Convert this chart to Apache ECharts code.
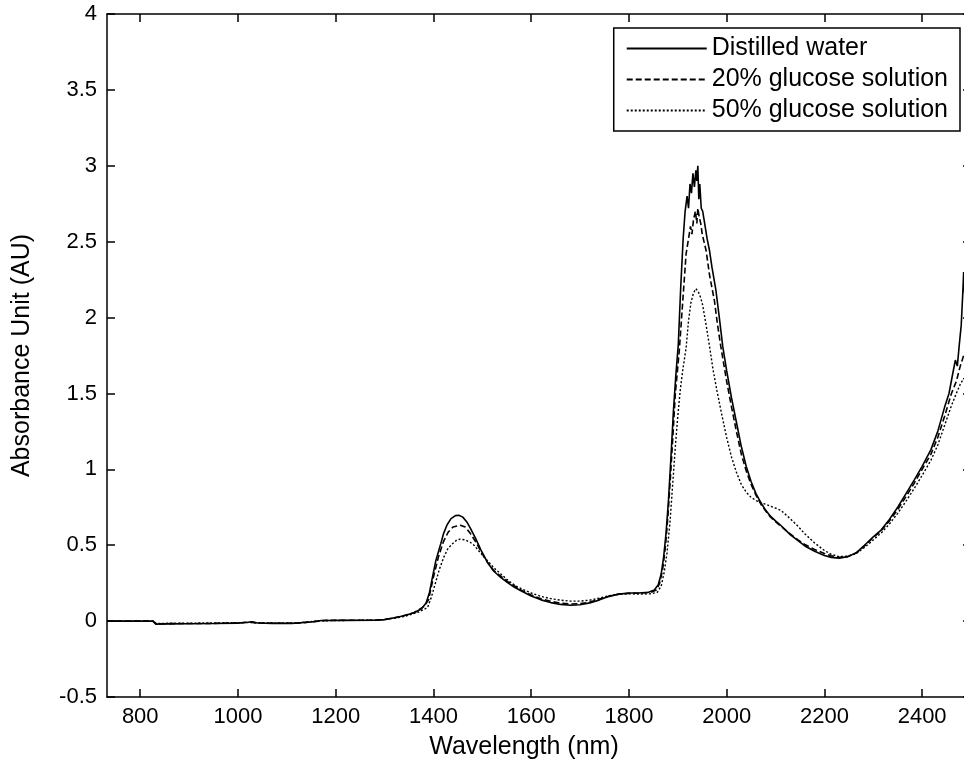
<!DOCTYPE html>
<html>
<head>
<meta charset="utf-8">
<script src="https://cdn.jsdelivr.net/npm/echarts@6/dist/echarts.min.js"></script>
<style>html,body{margin:0;padding:0;background:#fff;overflow:hidden;}#c{width:964px;height:771px;}</style>
</head>
<body>
<div id="c"></div>
<script>
const seriesNames = ['Distilled water', '20% glucose solution', '50% glucose solution'];
const xTickValues = [800, 1000, 1200, 1400, 1600, 1800, 2000, 2200, 2400];

const waterWl = [732,780,826,832,860,900,950,1000,1020,1030,1040,1070,1110,1150,1170,1220,1280,1300,1320,1340,1360,1375,1385,1392,1398,1405,1415,1421,1428,1436,1445,1452,1460,1468,1476,1487,1497,1510,1523,1537,1551,1565,1579,1600,1620,1640,1660,1680,1700,1720,1740,1760,1780,1800,1820,1840,1852,1860,1866,1871,1876,1881,1886,1891,1896,1901,1906,1911,1915,1919,1922,1925,1928,1931,1934,1937,1939,1941,1943,1945,1948,1951,1954,1960,1965,1970,1978,1985,1992,2000,2010,2020,2030,2040,2050,2060,2070,2080,2090,2100,2111,2130,2146,2160,2180,2200,2214,2230,2248,2265,2282,2300,2316,2333,2350,2367,2384,2400,2418,2432,2446,2455,2462,2468,2472,2476,2480,2483,2485,2488,2492,2500];
const waterAbs = [0,0,0,-0.02,-0.018,-0.017,-0.016,-0.013,-0.008,-0.004,-0.012,-0.015,-0.015,-0.006,0.004,0.005,0.006,0.01,0.022,0.035,0.055,0.08,0.12,0.19,0.29,0.40,0.51,0.58,0.635,0.675,0.695,0.697,0.685,0.655,0.61,0.54,0.47,0.39,0.33,0.29,0.255,0.225,0.2,0.165,0.14,0.122,0.11,0.105,0.108,0.12,0.14,0.163,0.178,0.185,0.185,0.19,0.205,0.24,0.31,0.42,0.58,0.8,1.08,1.38,1.62,1.82,2.2,2.52,2.7,2.8,2.72,2.88,2.82,2.95,2.86,2.97,2.9,3.0,2.78,2.88,2.72,2.7,2.64,2.52,2.44,2.33,2.18,2.0,1.81,1.65,1.47,1.31,1.15,1.02,0.92,0.84,0.78,0.73,0.69,0.66,0.63,0.57,0.53,0.495,0.46,0.432,0.42,0.415,0.425,0.45,0.5,0.555,0.6,0.67,0.75,0.84,0.93,1.02,1.13,1.25,1.41,1.5,1.62,1.72,1.68,1.82,1.95,2.15,2.3,2.1,2.25,2.3];

const g20Wl = [732,826,832,880,950,1000,1025,1035,1070,1120,1155,1180,1280,1300,1330,1360,1380,1390,1400,1410,1420,1430,1440,1455,1465,1475,1487,1497,1510,1523,1551,1579,1600,1620,1640,1660,1680,1700,1720,1740,1760,1780,1800,1820,1845,1856,1863,1869,1875,1880,1885,1890,1895,1903,1910,1917,1922,1926,1929,1932,1936,1939,1941,1944,1947,1950,1958,1965,1975,1981,1988,2000,2010,2020,2030,2040,2050,2060,2070,2080,2090,2100,2111,2130,2146,2160,2180,2200,2214,2230,2248,2265,2282,2300,2316,2333,2350,2367,2384,2400,2418,2432,2446,2460,2470,2478,2485,2492,2500];
const g20Abs = [0,0,-0.018,-0.016,-0.015,-0.012,-0.006,-0.012,-0.014,-0.014,-0.004,0.005,0.006,0.01,0.028,0.055,0.095,0.14,0.29,0.42,0.52,0.585,0.62,0.632,0.62,0.58,0.52,0.46,0.39,0.335,0.262,0.205,0.172,0.148,0.13,0.118,0.113,0.115,0.125,0.145,0.165,0.178,0.183,0.184,0.19,0.205,0.25,0.34,0.5,0.7,0.95,1.22,1.5,1.78,2.1,2.42,2.52,2.6,2.55,2.64,2.7,2.62,2.72,2.66,2.62,2.55,2.44,2.28,2.11,1.96,1.81,1.58,1.41,1.25,1.1,0.99,0.9,0.83,0.77,0.725,0.685,0.655,0.625,0.575,0.535,0.505,0.472,0.445,0.43,0.42,0.425,0.448,0.495,0.55,0.595,0.66,0.735,0.82,0.91,1.0,1.1,1.21,1.35,1.5,1.58,1.68,1.75,1.7,1.8];

const g50Wl = [732,826,833,880,950,1000,1030,1070,1120,1160,1200,1280,1300,1340,1370,1388,1395,1404,1412,1421,1430,1439,1448,1455,1465,1475,1483,1495,1510,1524,1538,1555,1572,1600,1620,1640,1660,1680,1700,1720,1740,1760,1780,1800,1820,1845,1858,1866,1872,1878,1884,1890,1895,1900,1905,1910,1917,1922,1927,1932,1937,1942,1947,1951,1958,1965,1972,1980,1990,2000,2010,2020,2030,2040,2050,2060,2070,2080,2090,2100,2111,2130,2146,2160,2180,2200,2214,2230,2248,2265,2282,2300,2316,2333,2350,2367,2384,2400,2418,2432,2446,2460,2470,2478,2485,2492,2500];
const g50Abs = [0,0,-0.015,-0.014,-0.012,-0.01,-0.01,-0.012,-0.012,0.0,0.004,0.006,0.01,0.03,0.06,0.09,0.15,0.25,0.34,0.42,0.48,0.51,0.535,0.54,0.535,0.52,0.5,0.455,0.4,0.35,0.31,0.262,0.225,0.185,0.163,0.148,0.138,0.132,0.132,0.138,0.152,0.168,0.178,0.18,0.178,0.18,0.19,0.23,0.32,0.45,0.65,0.92,1.15,1.35,1.52,1.65,1.8,1.98,2.1,2.16,2.19,2.17,2.13,2.08,1.95,1.81,1.66,1.52,1.36,1.21,1.08,0.98,0.9,0.85,0.815,0.795,0.78,0.77,0.757,0.745,0.73,0.675,0.625,0.575,0.515,0.465,0.44,0.425,0.428,0.445,0.485,0.535,0.58,0.64,0.71,0.79,0.875,0.96,1.06,1.16,1.29,1.42,1.5,1.56,1.6,1.55,1.62];

const FONT = 'Liberation Sans, Arial, Helvetica, sans-serif';
const TICK_FS = 22;
const TITLE_FS = 25;
const LEGEND_FS = 25;
const pairs = (xs, ys) => xs.map((x, i) => [x, ys[i]]);

const chart = echarts.init(document.getElementById('c'), null, {renderer: 'canvas'});
const axisLine = {show: true, onZero: false, lineStyle: {color: '#000', width: 1.5}};
const tick = {show: true, inside: true, length: 8, lineStyle: {color: '#000', width: 1.5}};

chart.setOption({
  animation: false,
  backgroundColor: '#fff',
  textStyle: {fontFamily: FONT, color: '#000'},
  grid: {left: 107, top: 14, width: 864, bottom: 74, containLabel: false, outerBoundsMode: 'none'},
  legend: {
    data: seriesNames,
    orient: 'vertical',
    right: 4,
    top: 28,
    backgroundColor: '#fff',
    borderColor: '#000',
    borderWidth: 1.5,
    borderRadius: 0,
    padding: [6, 12, 6, 12],
    itemGap: 2,
    itemWidth: 80,
    itemHeight: 14,
    itemStyle: {opacity: 0},
    textStyle: {fontFamily: FONT, fontSize: LEGEND_FS, lineHeight: 29, color: '#000'}
  },
  xAxis: [{
    type: 'value', min: 732, max: 2500, position: 'bottom',
    axisLine: axisLine,
    axisTick: Object.assign({customValues: xTickValues}, tick),
    axisLabel: {customValues: xTickValues, formatter: v => String(v), fontFamily: FONT, fontSize: TICK_FS, color: '#000', margin: 9},
    splitLine: {show: false},
    name: 'Wavelength (nm)', nameLocation: 'middle', nameGap: 38,
    nameTextStyle: {fontFamily: FONT, fontSize: TITLE_FS, color: '#000', padding: [0, 30, 0, 0]}
  }, {
    type: 'value', min: 732, max: 2500, position: 'top',
    axisLine: axisLine,
    axisTick: Object.assign({customValues: xTickValues}, tick),
    axisLabel: {show: false},
    splitLine: {show: false}
  }],
  yAxis: [{
    type: 'value', min: -0.5, max: 4, interval: 0.5, position: 'left',
    axisLine: axisLine, axisTick: tick,
    axisLabel: {fontFamily: FONT, fontSize: TICK_FS, color: '#000', margin: 10},
    splitLine: {show: false},
    name: 'Absorbance Unit (AU)', nameLocation: 'middle', nameGap: 72,
    nameTextStyle: {fontFamily: FONT, fontSize: TITLE_FS, color: '#000'}
  }, {
    type: 'value', min: -0.5, max: 4, interval: 0.5, position: 'right',
    axisLine: axisLine, axisTick: tick,
    axisLabel: {show: false},
    splitLine: {show: false}
  }],
  series: [{
    name: seriesNames[0], type: 'line', symbol: 'none', data: pairs(waterWl, waterAbs),
    lineStyle: {color: '#000', width: 1.6, type: 'solid'}, itemStyle: {color: '#000'}
  }, {
    name: seriesNames[1], type: 'line', symbol: 'none', data: pairs(g20Wl, g20Abs),
    lineStyle: {color: '#000', width: 1.6, type: [6, 3]}, itemStyle: {color: '#000'}
  }, {
    name: seriesNames[2], type: 'line', symbol: 'none', data: pairs(g50Wl, g50Abs),
    lineStyle: {color: '#000', width: 1.4, type: [2, 2]}, itemStyle: {color: '#000'}
  }]
});
</script>
</body>
</html>
